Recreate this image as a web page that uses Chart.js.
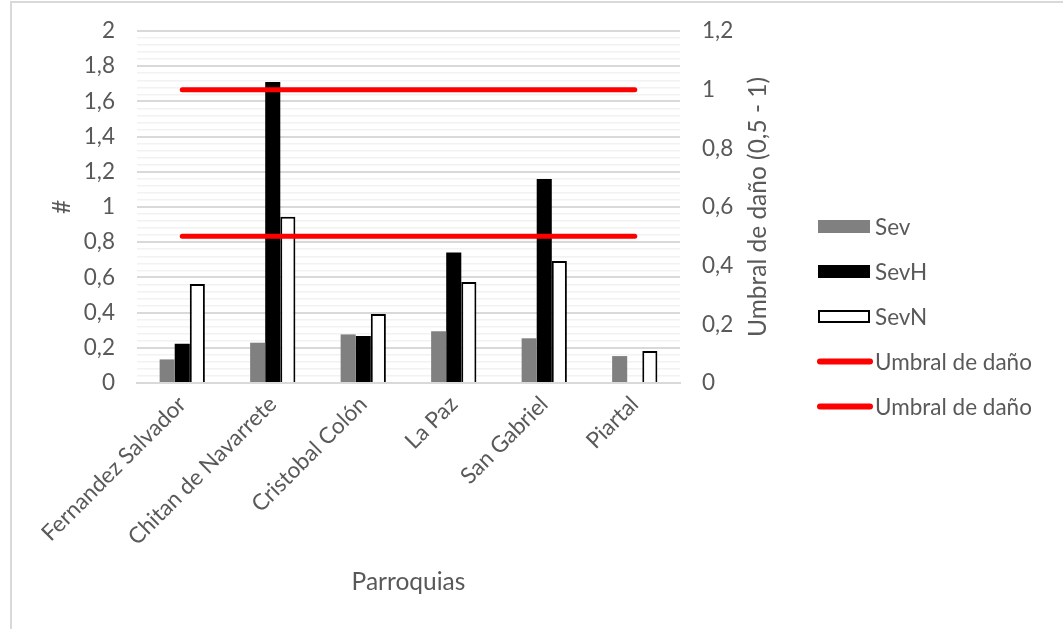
<!DOCTYPE html>
<html>
<head>
<meta charset="utf-8">
<script src="https://cdn.jsdelivr.net/npm/chart.js@4/dist/chart.umd.min.js"></script>
<style>
  html, body { margin: 0; padding: 0; background: #fff; }
  #wrap { position: relative; width: 1063px; height: 629px; }
  #frame { position: absolute; left: 10px; top: 1px; width: 1070px; height: 640px;
           border-left: 2px solid #d9d9d9; border-top: 2px solid #d9d9d9; pointer-events: none; }
  canvas { position: absolute; left: 0; top: 0; }
</style>
</head>
<body>
<div id="wrap">
  <canvas id="c" width="1063" height="629"></canvas>
  <div id="frame"></div>
</div>
<script>
// Parroquias and severity indices
const parroquias = ['Fernandez Salvador', 'Chitan de Navarrete', 'Cristobal Colón', 'La Paz', 'San Gabriel', 'Piartal'];
const sev  = [0.134, 0.229, 0.276, 0.294, 0.254, 0.153];
const sevH = [0.223, 1.71, 0.267, 0.742, 1.159, 0];
const sevN = [0.562, 0.945, 0.392, 0.574, 0.693, 0.182];
// Damage thresholds (right axis)
const umbralAlto = [1, 1, 1, 1, 1, 1];
const umbralBajo = [0.5, 0.5, 0.5, 0.5, 0.5, 0.5];
const tituloDerecho = 'Umbral de daño (0,5 - 1)';

const FONT = 'Lato, "Open Sans", sans-serif';
const FS = 22.5;   // tick and legend text
const TS = 24.5;   // axis titles
const TXT = '#595959';

function fmt(v) {
  return String(Math.round(v * 10) / 10).replace('.', ',');
}

// Right axis title, reading bottom to top
const rightTitle = {
  id: 'rightTitle',
  afterDraw(chart) {
    const ctx = chart.ctx;
    const a = chart.chartArea;
    ctx.save();
    ctx.translate(a.right + 78, (a.top + a.bottom) / 2);
    ctx.rotate(-Math.PI / 2);
    ctx.font = TS + 'px ' + FONT;
    ctx.fillStyle = TXT;
    ctx.textAlign = 'center';
    ctx.textBaseline = 'middle';
    ctx.fillText(tituloDerecho, 0, 0);
    ctx.restore();
  }
};

// Legend drawn at the right side: bars as boxes, thresholds as thick red strokes
const sideLegend = {
  id: 'sideLegend',
  afterDraw(chart) {
    const ctx = chart.ctx;
    const x0 = chart.chartArea.right + 138;
    const gap = 45;
    const ds = chart.data.datasets;
    const cy = chart.height / 2 + 2;
    const startY = cy - gap * (ds.length - 1) / 2;
    ctx.save();
    ctx.font = FS + 'px ' + FONT;
    ctx.textBaseline = 'middle';
    ds.forEach((d, i) => {
      const y = startY + i * gap;
      if (d.type === 'line') {
        ctx.strokeStyle = d.borderColor;
        ctx.lineWidth = 6;
        ctx.lineCap = 'round';
        ctx.beginPath();
        ctx.moveTo(x0 + 2, y);
        ctx.lineTo(x0 + 52, y);
        ctx.stroke();
      } else {
        ctx.fillStyle = d.backgroundColor;
        ctx.fillRect(x0, y - 6.5, 52, 13);
        if (d.borderWidth) {
          ctx.strokeStyle = d.borderColor;
          ctx.lineWidth = 2;
          ctx.strokeRect(x0 + 1, y - 5.5, 50, 11);
        }
      }
      ctx.fillStyle = TXT;
      ctx.textAlign = 'left';
      ctx.fillText(d.label, x0 + 57, y + 1);
    });
    ctx.restore();
  }
};

new Chart(document.getElementById('c'), {
  data: {
    labels: parroquias,
    datasets: [
      { type: 'bar', label: 'Sev',  data: sev,  backgroundColor: '#808080', borderWidth: 0, yAxisID: 'y', order: 1 },
      { type: 'bar', label: 'SevH', data: sevH, backgroundColor: '#000000', borderWidth: 0, yAxisID: 'y', order: 1 },
      { type: 'bar', label: 'SevN', data: sevN, backgroundColor: '#ffffff', borderColor: '#000000', borderWidth: 2, yAxisID: 'y', order: 1 },
      { type: 'line', label: 'Umbral de daño', data: umbralAlto, borderColor: '#ff0000', backgroundColor: '#ff0000',
        borderWidth: 5, borderCapStyle: 'round', pointRadius: 0, yAxisID: 'y1', order: 0 },
      { type: 'line', label: 'Umbral de daño', data: umbralBajo, borderColor: '#ff0000', backgroundColor: '#ff0000',
        borderWidth: 5, borderCapStyle: 'round', pointRadius: 0, yAxisID: 'y1', order: 0 }
    ]
  },
  options: {
    responsive: false,
    animation: false,
    layout: { padding: { left: 0, right: 283, top: 31, bottom: 0 } },
    datasets: { bar: { categoryPercentage: 0.5, barPercentage: 1.0 } },
    plugins: { legend: { display: false }, tooltip: { enabled: false } },
    scales: {
      x: {
        grid: { display: false, drawTicks: false },
        border: { display: true, color: '#d9d9d9', width: 2 },
        ticks: { color: TXT, font: { family: FONT, size: FS }, maxRotation: 45, minRotation: 45, padding: 8, autoSkip: false },
        title: { display: true, text: 'Parroquias', color: TXT, font: { family: FONT, size: TS }, padding: { top: 0, bottom: 32 } },
        afterFit(s) { s.height = 246; }
      },
      y: {
        position: 'left',
        min: 0, max: 2,
        ticks: {
          stepSize: 0.04, autoSkip: false, color: TXT, font: { family: FONT, size: FS, lineHeight: 0.7 }, padding: 22,
          callback(v, i) { return i % 5 === 0 ? fmt(v) : ''; }
        },
        grid: {
          drawTicks: false,
          color(c) { return c.index % 5 === 0 ? '#d9d9d9' : '#f2f2f2'; },
          lineWidth(c) { return c.index % 5 === 0 ? 2 : 1.5; }
        },
        border: { display: false },
        title: { display: true, text: '#', color: TXT, font: { family: FONT, size: TS }, padding: { top: 47, bottom: 0 } },
        afterFit(s) { s.width = 137; }
      },
      y1: {
        position: 'right',
        min: 0, max: 1.2,
        ticks: { stepSize: 0.2, color: TXT, font: { family: FONT, size: FS, lineHeight: 0.7 }, padding: 22, callback(v) { return fmt(v); } },
        grid: { display: false, drawTicks: false },
        border: { display: false },
        afterFit(s) { s.width = 100; }
      }
    }
  },
  plugins: [rightTitle, sideLegend]
});
</script>
</body>
</html>
